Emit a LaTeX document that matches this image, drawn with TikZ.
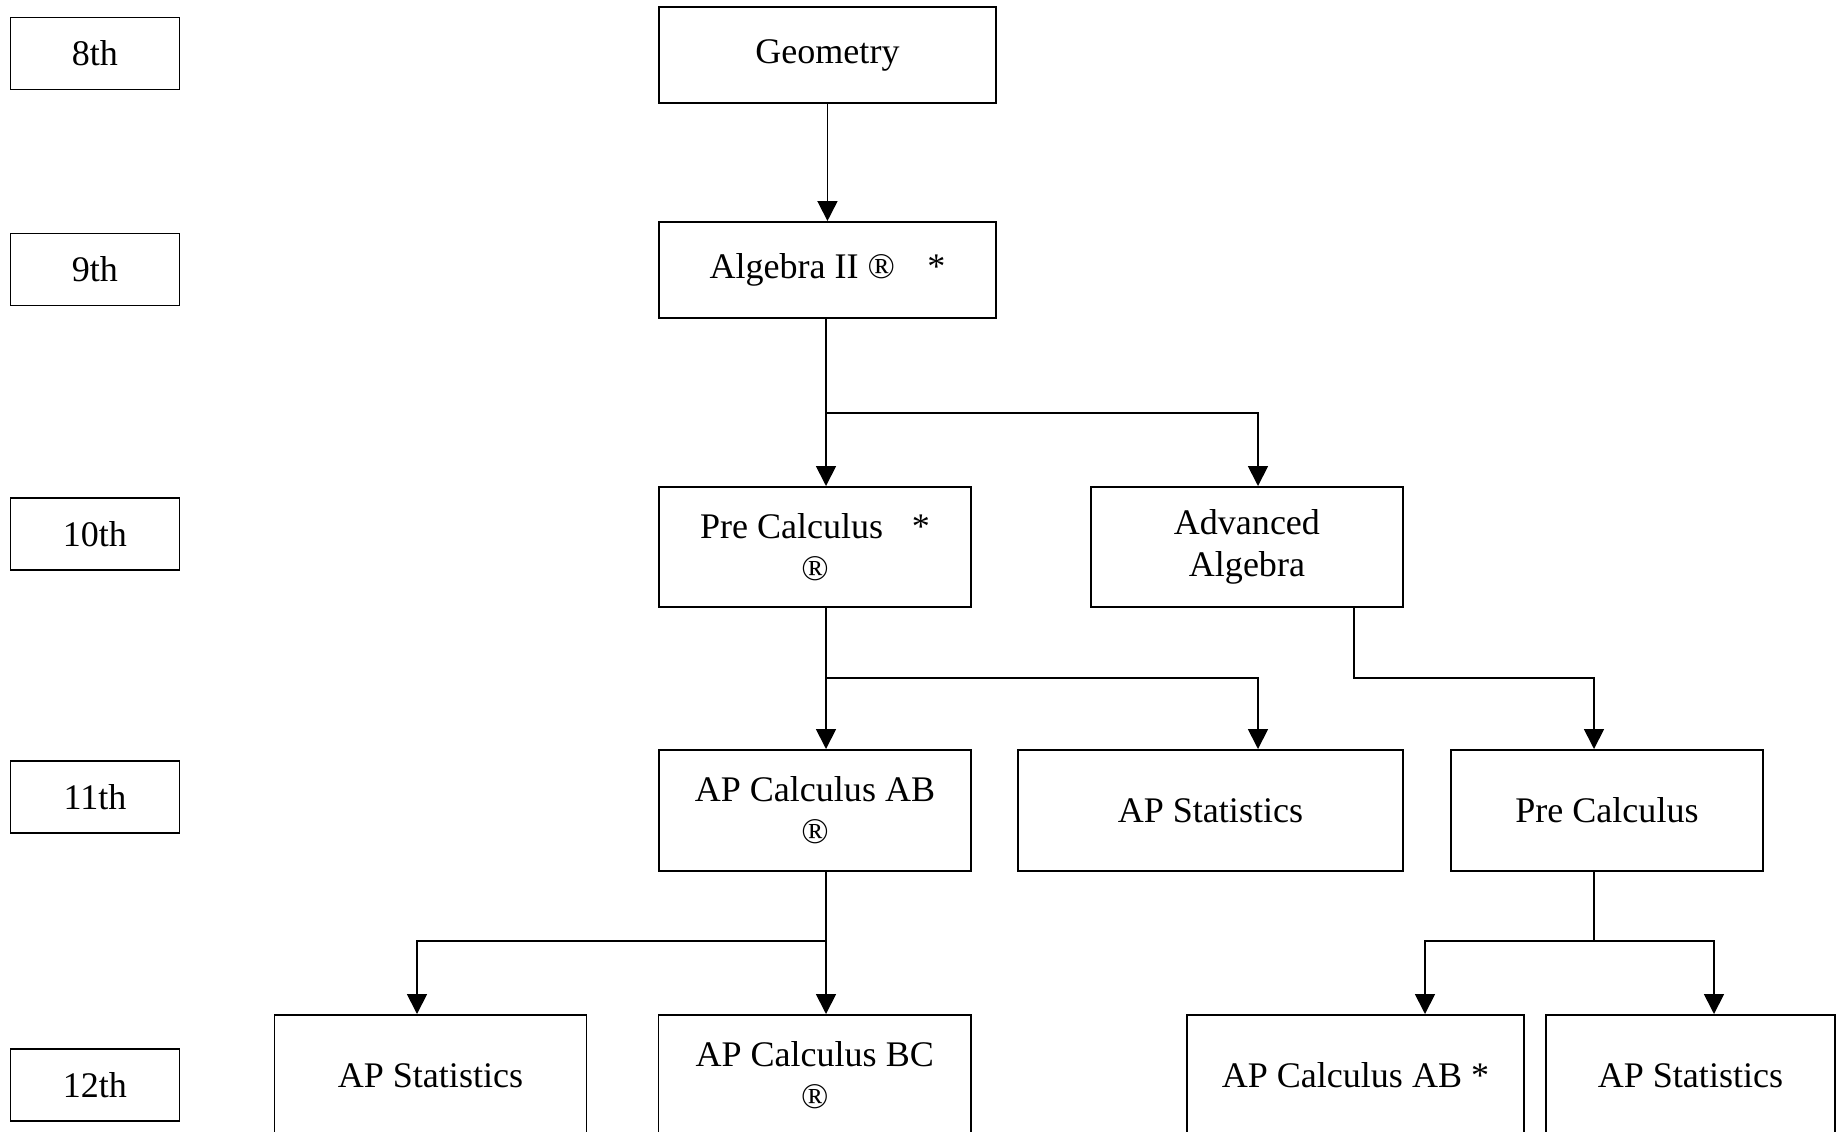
\documentclass[tikz,border=0pt]{standalone}
\usepackage{fontspec}
\setmainfont{Liberation Serif}
\usetikzlibrary{arrows.meta}

\begin{document}
\begin{tikzpicture}[
  grade/.style={below right, draw, line width=1.1pt, minimum width=3.38cm, minimum height=1.44cm, inner sep=0pt},
  course/.style={below right, draw, line width=1.1pt, minimum height=2.42cm, align=center, inner sep=0pt},
  arr/.style={-{Triangle[length=0.4cm, width=0.4cm]}, line width=1pt},
  link/.style={line width=1pt},
  font=\fontsize{20.5}{24}\selectfont
]
\useasboundingbox (0,0) rectangle (36.82,-22.62);
\clip (0,0) rectangle (36.82,-22.62);

% Grade column (left)
\node[grade] (g8) at (0.19,-0.33){8th};
\node[grade] (g9) at (0.19,-4.65){9th};
\node[grade] (g10) at (0.19,-9.94){10th};
\node[grade] (g11) at (0.19,-15.2){11th};
\node[grade] (g12) at (0.19,-20.96){12th};

% 8th and 9th grade boxes
\node[course, minimum width=6.74cm, minimum height=1.92cm] (geo) at (13.16,-0.12){Geometry};
\node[course, minimum width=6.74cm, minimum height=1.92cm] (alg) at (13.16,-4.42){Algebra II ®\hspace{0.9em}*};

% 10th grade boxes
\node[course, minimum width=6.24cm, minimum height=2.4cm] (pc) at (13.16,-9.72){Pre Calculus\hspace{0.8em}*\\®};
\node[course, minimum width=6.24cm, minimum height=2.4cm] (adv) at (21.8,-9.72){Advanced\\Algebra};

% 11th grade boxes
\node[course, minimum width=6.24cm] (ab) at (13.16,-14.98){AP Calculus AB\\®};
\node[course, minimum width=7.7cm] (st11) at (20.34,-14.98){AP Statistics};
\node[course, minimum width=6.24cm] (pc11) at (29.0,-14.98){Pre Calculus};

% 12th grade boxes (cut at the bottom)
\node[course, minimum width=6.24cm] (st12a) at (5.47,-20.28){AP Statistics};
\node[course, minimum width=6.25cm] (bc) at (13.15,-20.28){AP Calculus BC\\®};
\node[course, minimum width=6.74cm] (ab12) at (23.72,-20.28){AP Calculus AB *};
\node[course, minimum width=5.78cm] (st12b) at (30.9,-20.28){AP Statistics};

% Geometry to Algebra II
\draw[arr] (geo) -- (alg);

% Algebra II splits
\coordinate (s1) at (16.52,-8.26);
\coordinate (t1) at (25.16,-8.26);
\draw[link] (s1 |- alg.south) -- (s1);
\draw[arr] (s1) -- (s1 |- pc.north);
\draw[arr] (s1) -- (t1) -- (t1 |- adv.north);

% Pre Calculus * splits
\coordinate (s2) at (16.52,-13.56);
\coordinate (t2) at (25.16,-13.56);
\draw[link] (s2 |- pc.south) -- (s2);
\draw[arr] (s2) -- (s2 |- ab.north);
\draw[arr] (s2) -- (t2) -- (t2 |- st11.north);

% Advanced Algebra to Pre Calculus
\coordinate (s3) at (27.08,-13.56);
\coordinate (t3) at (31.88,-13.56);
\draw[arr] (s3 |- adv.south) -- (s3) -- (t3) -- (t3 |- pc11.north);

% AP Calculus AB splits
\coordinate (s4) at (16.52,-18.82);
\coordinate (t4) at (8.34,-18.82);
\draw[link] (s4 |- ab.south) -- (s4);
\draw[arr] (s4) -- (s4 |- bc.north);
\draw[arr] (s4) -- (t4) -- (t4 |- st12a.north);

% Pre Calculus splits
\coordinate (s5) at (31.88,-18.82);
\coordinate (t5) at (28.5,-18.82);
\coordinate (u5) at (34.28,-18.82);
\draw[link] (s5 |- pc11.south) -- (s5);
\draw[arr] (s5) -- (t5) -- (t5 |- ab12.north);
\draw[arr] (s5) -- (u5) -- (u5 |- st12b.north);

\end{tikzpicture}
\end{document}
